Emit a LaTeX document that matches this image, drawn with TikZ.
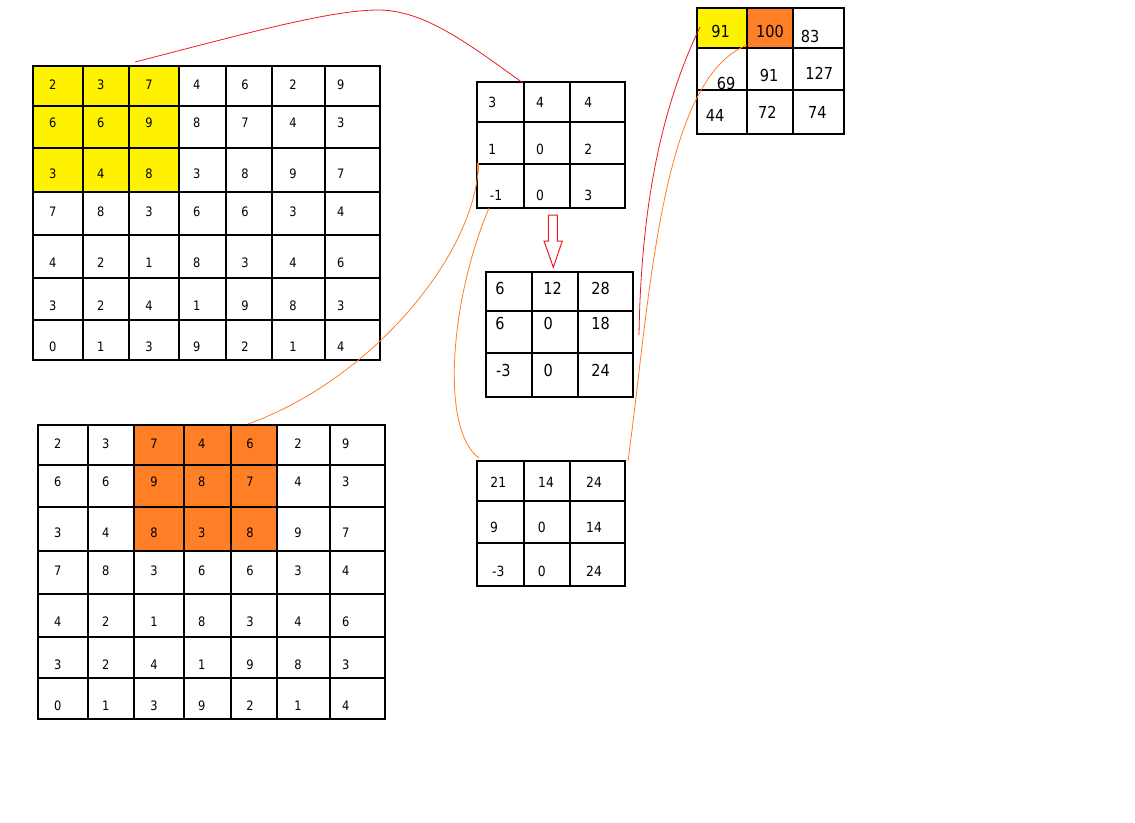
\documentclass[tikz,border=0pt]{standalone}
\usepackage{fontspec}
\setmainfont{DejaVu Sans}[FakeStretch=0.88]
\definecolor{pyellow}{HTML}{FFF200}
\definecolor{porange}{HTML}{FF7F27}
\definecolor{pred}{HTML}{ED1C24}
\begin{document}
\begin{tikzpicture}[x=1pt,y=-1pt,
  gridline/.style={draw=black,line width=1.1pt,line cap=rect},
  small/.style={inner sep=0pt,anchor=center,font=\fontsize{13}{13}\selectfont},
  mid/.style={inner sep=0pt,anchor=center,font=\fontsize{14}{14}\selectfont},
  big/.style={inner sep=0pt,anchor=center,font=\fontsize{16.5}{16.5}\selectfont},
  redlink/.style={draw=pred,line width=0.8pt},
  orangelink/.style={draw=porange,line width=0.8pt}]
\useasboundingbox[fill=white] (0,0) rectangle (1135,822);

% ---------- top-left grid ----------
\fill[pyellow] (33,66) rectangle (179,192);
\foreach \x in {33,83,129,179,226,272,325,380} \draw[gridline] (\x,66) -- (\x,360);
\foreach \y in {66,106,148,192,235,278,320,360} \draw[gridline] (33,\y) -- (380,\y);
\def\gx{{52.7,100.7,149,196.7,245,293,340.7}}
\def\gy{{85,123,174,212,263,306,347}}
\foreach \rowvals [count=\r from 0] in {{2,3,7,4,6,2,9},{6,6,9,8,7,4,3},{3,4,8,3,8,9,7},{7,8,3,6,6,3,4},{4,2,1,8,3,4,6},{3,2,4,1,9,8,3},{0,1,3,9,2,1,4}}{
  \foreach \v [count=\c from 0] in \rowvals {
    \pgfmathsetmacro\xx{\gx[\c]}
    \pgfmathsetmacro\yy{\gy[\r]}
    \node[small] (a-\r-\c) at (\xx,\yy) {\v};
  }
}

% ---------- bottom-left grid ----------
\fill[porange] (134,425) rectangle (277,551);
\foreach \x in {38,88,134,184,231,277,330,385} \draw[gridline] (\x,425) -- (\x,719);
\foreach \y in {425,465,507,551,594,637,678,719} \draw[gridline] (38,\y) -- (385,\y);
\foreach \rowvals [count=\r from 0] in {{2,3,7,4,6,2,9},{6,6,9,8,7,4,3},{3,4,8,3,8,9,7},{7,8,3,6,6,3,4},{4,2,1,8,3,4,6},{3,2,4,1,9,8,3},{0,1,3,9,2,1,4}}{
  \foreach \v [count=\c from 0] in \rowvals {
    \pgfmathsetmacro\xx{\gx[\c]}
    \pgfmathsetmacro\yy{\gy[\r]}
    \node[small] (b-\r-\c) at (\xx+5,\yy+359) {\v};
  }
}

% ---------- kernel ----------
\foreach \x in {477,524,570,625} \draw[gridline] (\x,82) -- (\x,208);
\foreach \y in {82,122,164,208} \draw[gridline] (477,\y) -- (625,\y);
\node[mid] (k00) at (492.3,102.7) {3};
\node[mid] (k01) at (540,102.7) {4};
\node[mid] (k02) at (588.3,102.7) {4};
\node[mid] (k10) at (492.3,149) {1};
\node[mid] (k11) at (540,149) {0};
\node[mid] (k12) at (588.3,149) {2};
\node[mid] (k20) at (496,195) {-1};
\node[mid] (k21) at (540,195) {0};
\node[mid] (k22) at (588.3,195) {3};

% ---------- arrow ----------
\draw[draw=pred,fill=white,line width=1pt] (548.3,215) -- (557.3,215) -- (557.3,241) -- (562.3,241)
  -- (553.3,267.3) -- (544,241) -- (548.3,241) -- cycle;

% ---------- product matrix 1 ----------
\foreach \x in {486,532,578,633} \draw[gridline] (\x,272) -- (\x,397);
\foreach \y in {272,311,353,397} \draw[gridline] (486,\y) -- (633,\y);
\node[big] (p00) at (500,288.3) {6};
\node[big] (p01) at (552.7,288.3) {12};
\node[big] (p02) at (600.7,288.3) {28};
\node[big] (p10) at (500,323.3) {6};
\node[big] (p11) at (548.3,323.3) {0};
\node[big] (p12) at (600.7,323.3) {18};
\node[big] (p20) at (503.3,370) {-3};
\node[big] (p21) at (548.3,370) {0};
\node[big] (p22) at (600.7,370) {24};

% ---------- product matrix 2 ----------
\foreach \x in {477,524,570,625} \draw[gridline] (\x,461) -- (\x,586);
\foreach \y in {461,501,543,586} \draw[gridline] (477,\y) -- (625,\y);
\node[mid] (q00) at (498.3,482.3) {21};
\node[mid] (q01) at (546,482.3) {14};
\node[mid] (q02) at (594,482.3) {24};
\node[mid] (q10) at (494,527.3) {9};
\node[mid] (q11) at (541.7,527.3) {0};
\node[mid] (q12) at (594,527.3) {14};
\node[mid] (q20) at (498.3,571.7) {-3};
\node[mid] (q21) at (541.7,571.7) {0};
\node[mid] (q22) at (594,571.7) {24};

% ---------- result matrix ----------
\fill[pyellow] (697,8) rectangle (747,48);
\fill[porange] (747,8) rectangle (793,48);
\foreach \x in {697,747,793,844} \draw[gridline] (\x,8) -- (\x,134);
\foreach \y in {8,48,90,134} \draw[gridline] (697,\y) -- (844,\y);
\node[big] (r00) at (720.7,31) {91};
\node[big] (r01) at (770,31.7) {100};
\node[big] (r02) at (810,36) {83};
\node[big] (r10) at (726,83.3) {69};
\node[big] (r11) at (769,75) {91};
\node[big] (r12) at (819.3,73.3) {127};
\node[big] (r20) at (715,115) {44};
\node[big] (r21) at (767.3,112.7) {72};
\node[big] (r22) at (817.3,112.7) {74};

% ---------- connector end points ----------
\coordinate (yellowTop) at (135,62);
\coordinate (kernelTop) at (523,83);
\coordinate (prodRight) at (639,335);
\coordinate (resYellow) at (700,27);
\coordinate (kernelLeft) at (478,163);
\coordinate (kernelLeftLow) at (478,172);
\coordinate (orangeTop) at (248,424);
\coordinate (kernelBottom) at (489,208);
\coordinate (prodTwoTop) at (479,458);
\coordinate (prodTwoRight) at (628,461);
\coordinate (resOrange) at (747,45);

% ---------- connectors ----------
\draw[redlink] (yellowTop) .. controls (240,35) and (330,10) .. (378,10)
  .. controls (425,10) and (470,45) .. (kernelTop);
\draw[redlink] (prodRight) .. controls (641,210) and (660,110) .. (resYellow);
\draw[orangelink, line width=1.4pt] (kernelLeft) -- (kernelLeftLow);
\draw[orangelink] (kernelLeftLow) .. controls (470,260) and (370,380) .. (orangeTop);
\draw[orangelink] (kernelBottom) .. controls (450,300) and (440,430) .. (prodTwoTop);
\draw[orangelink] (prodTwoRight) .. controls (650,300) and (660,80) .. (resOrange);
\end{tikzpicture}
\end{document}
